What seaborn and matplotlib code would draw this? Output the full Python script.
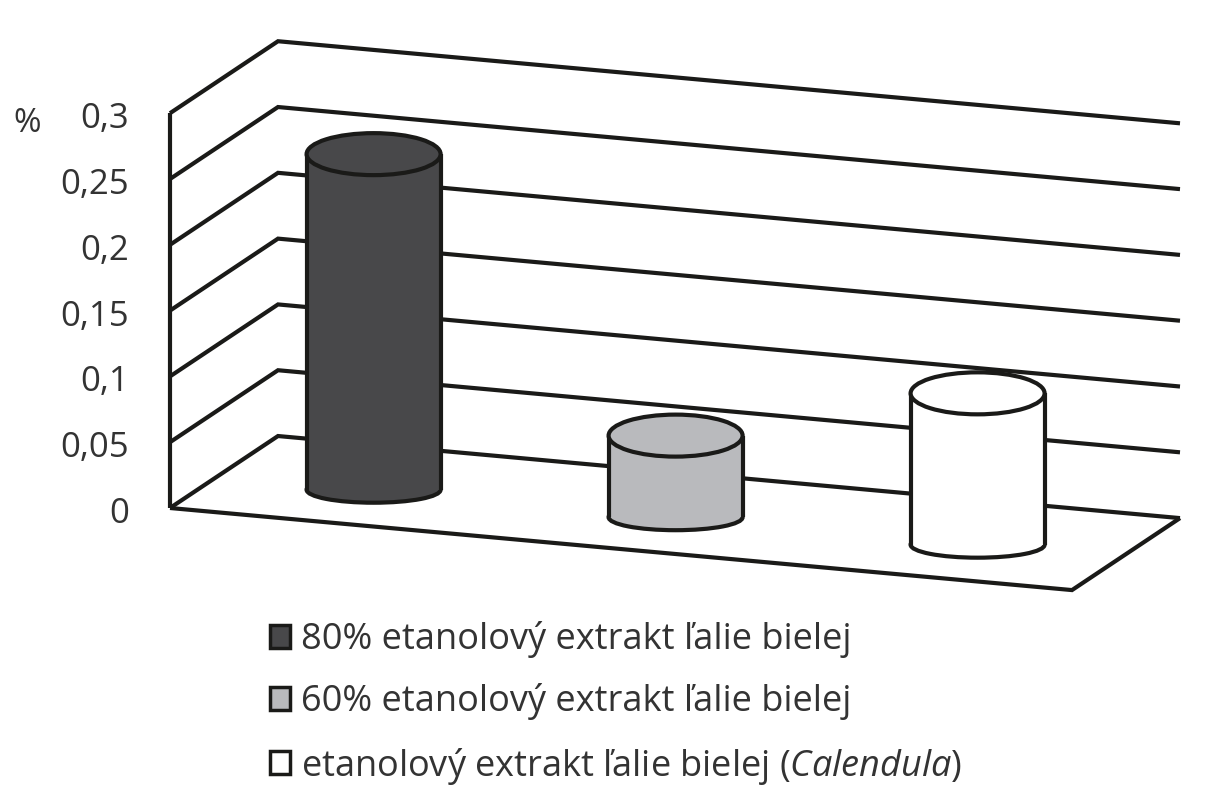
import numpy as np
import pandas as pd
import matplotlib
matplotlib.use("Agg")
import matplotlib.pyplot as plt
import seaborn as sns
from matplotlib.patches import Ellipse, Patch
from matplotlib.transforms import Affine2D

labels = ["80% etanolový extrakt ľalie bielej",
          "60% etanolový extrakt ľalie bielej",
          r"etanolový extrakt ľalie bielej ($\mathit{Calendula}$)"]
values = [0.255, 0.062, 0.115]
colors = ["#48484a", "#b9babd", "#ffffff"]
y_ticks = [0, 0.05, 0.1, 0.15, 0.2, 0.25, 0.3]
y_ticklabels = ["0", "0,05", "0,1", "0,15", "0,2", "0,25", "0,3"]

sns.set_theme(style="white")
plt.rcParams["font.family"] = ["Open Sans", "DejaVu Sans"]
plt.rcParams["mathtext.fontset"] = "custom"
plt.rcParams["mathtext.it"] = "Open Sans:italic"
plt.rcParams["mathtext.rm"] = "Open Sans"

INK = "#1a1a18"
TEXT = "#333333"
LW = 3.0

W, H = 1210, 800
AX_LEFT = 136
# pixel scales of the fake 3d box
CAT_PX = 302
CAT0_PX = 325
VAL_PX = 1316
VAL0_PY = 510
SLOPE = 0.091
XREF, YSHIFT = 170, 2
DEPTH_DX, DEPTH_DY = 108, 81.8
BAR_DEPTH = 0.45
BAR_W = 134 / CAT_PX
TOP_H = 42 / VAL_PX
BOT_H = 26 / VAL_PX

fig = plt.figure(figsize=(W / 100, H / 100), dpi=100)
ax = fig.add_axes([AX_LEFT / W, 0, 1 - AX_LEFT / W, 1])

df = pd.DataFrame({"label": labels, "value": values})
sns.barplot(data=df, x="label", y="value", hue="label", palette=colors,
            order=labels, hue_order=labels, dodge=False, width=BAR_W,
            saturation=1, legend=False, ax=ax, zorder=2.1)

ax.set_xlim((AX_LEFT - CAT0_PX) / CAT_PX, (W - CAT0_PX) / CAT_PX)
ax.set_ylim((VAL0_PY - H) / VAL_PX, VAL0_PY / VAL_PX)
sns.despine(ax=ax, left=True, bottom=True)
ax.set_xticks([])
ax.set_xlabel("")
ax.set_yticks(y_ticks)
ax.set_yticklabels(y_ticklabels, fontsize=25, color=TEXT)
ax.tick_params(axis="y", length=0, pad=5)
ax.set_ylabel("%", rotation=0, fontsize=24, color=TEXT, va="center", ha="center")
ax.yaxis.set_label_coords((27 - AX_LEFT) / (W - AX_LEFT), (800 - 123) / 800)

# skew everything that lies on the walls and the floor
shear = Affine2D.from_values(1, -SLOPE, 0, 1, 0, SLOPE * XREF + YSHIFT)
box_t = ax.transData + shear
x0 = (XREF - CAT0_PX) / CAT_PX
x1 = (1072 - CAT0_PX) / CAT_PX
ddx = DEPTH_DX / CAT_PX
ddy = DEPTH_DY / VAL_PX

line_kw = dict(color=INK, lw=LW, transform=box_t, zorder=1, clip_on=False,
               solid_joinstyle="miter", solid_capstyle="butt")
for v in y_ticks:
    ax.plot([x0, x0 + ddx, x1 + ddx], [v, v + ddy, v + ddy], **line_kw)
ax.plot([x0, x0], [0, y_ticks[-1]], **line_kw)
ax.plot([x0, x1, x1 + ddx], [0, 0, ddy], **line_kw)

# turn the seaborn bars into upright cylinders standing on the floor
for i, (patch, val, col) in enumerate(zip(ax.patches, values, colors)):
    px = ax.transData.transform((i, 0))[0] + BAR_DEPTH * DEPTH_DX
    t = ax.transData + Affine2D().translate(
        BAR_DEPTH * DEPTH_DX,
        BAR_DEPTH * DEPTH_DY - SLOPE * (px - XREF) + YSHIFT)
    patch.set_transform(t)
    patch.set_edgecolor("none")
    ax.add_patch(Ellipse((i, 0), BAR_W, BOT_H, transform=t, facecolor=col,
                         edgecolor=INK, lw=LW, zorder=2))
    for side in (-BAR_W / 2, BAR_W / 2):
        ax.plot([i + side, i + side], [0, val], color=INK, lw=LW, transform=t,
                zorder=2.2, solid_capstyle="butt")
    ax.add_patch(Ellipse((i, val), BAR_W, TOP_H, transform=t, facecolor=col,
                         edgecolor=INK, lw=LW, zorder=2.3))

handles = [Patch(facecolor=c, edgecolor=INK, lw=2.5) for c in colors]
leg = ax.legend(handles, labels, loc="upper left", frameon=False, fontsize=26,
                bbox_to_anchor=(270 / W, 1 - 621 / H), bbox_transform=fig.transFigure,
                borderpad=0, borderaxespad=0, handlelength=0.55, handleheight=0.6,
                handletextpad=0.3, labelspacing=0.7)
for txt in leg.get_texts():
    txt.set_color(TEXT)

fig.savefig("out.png", dpi=100)
